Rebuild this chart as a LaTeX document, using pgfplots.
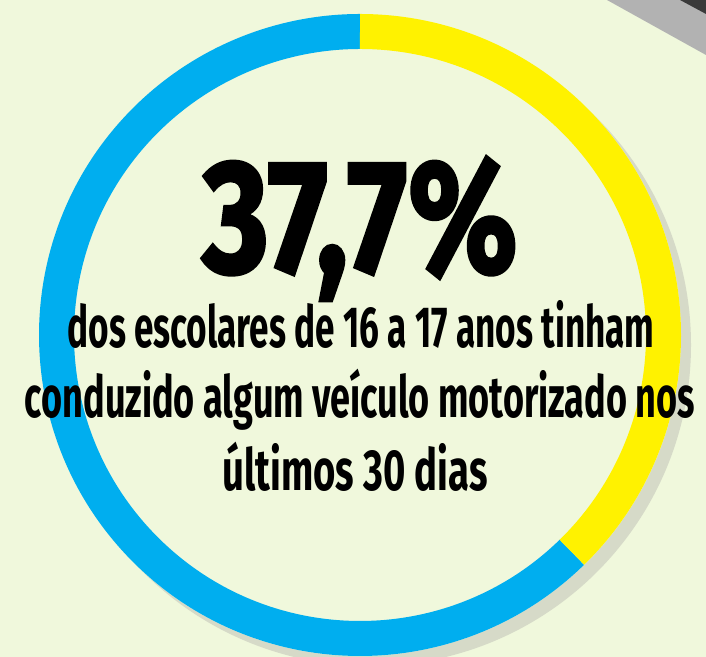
\documentclass[border=0pt]{standalone}
\usepackage{pgfplots}
\pgfplotsset{compat=1.18}
\usepackage{pgfplotstable}
\usepackage{graphicx}
\usepackage{fontspec}
\setmainfont{Fira Sans}
\newfontfamily\numfont{Fira Sans}[FakeBold=2.5]

\definecolor{fundo}{HTML}{F0F8DC}
\definecolor{azul}{HTML}{00AEEF}
\definecolor{amarelo}{HTML}{FFF200}
\definecolor{sombra}{HTML}{D6DAC8}
\definecolor{cinzaclaro}{HTML}{B2B2B2}
\definecolor{cinzaescuro}{HTML}{3A3A3A}

% parcela dos escolares de 16 a 17 anos que conduziram veiculo (%)
\pgfplotstableread{
grupo valor
sim   37.7
nao   62.3
}\dados

\begin{document}
\begin{tikzpicture}
\pgfplotstablegetelem{0}{valor}\of\dados
\let\vsim\pgfplotsretval
\pgfmathsetmacro\afim{90-3.6*\vsim}
\begin{axis}[
    width=353pt, height=328.5pt,
    scale only axis,
    xmin=0, xmax=706, ymin=0, ymax=657,
    hide axis,
]
% fundo
\fill[fundo] (axis cs:0,0) rectangle (axis cs:706,657);
% faixa no canto
\fill[cinzaclaro] (axis cs:607,657) -- (axis cs:706,657) -- (axis cs:706,602) -- cycle;
\fill[cinzaescuro] (axis cs:680,657) -- (axis cs:706,657) -- (axis cs:706,643) -- cycle;

% sombra e disco
\fill[sombra] (axis cs:370,312) circle[radius=160.5pt];
\fill[fundo] (axis cs:360,322) circle[radius=160.5pt];

% anel
\draw[azul, line width=17.5pt] (axis cs:360,322) ++(\afim:151.75pt)
    arc[start angle=\afim, end angle=-270, radius=151.75pt];
\draw[amarelo, line width=17.5pt] (axis cs:360,322) ++(90:151.75pt)
    arc[start angle=90, end angle=\afim, radius=151.75pt];

% textos
\node[anchor=base, inner sep=0pt] at (axis cs:360,385)
    {\resizebox{157.5pt}{\height}{\fontsize{80pt}{80pt}\numfont\bfseries 37,7\%}};
\node[anchor=base, inner sep=0pt] at (axis cs:361,309)
    {\resizebox{293.5pt}{\height}{\fontsize{29pt}{29pt}\selectfont\bfseries dos escolares de 16 a 17 anos tinham}};
\node[anchor=base, inner sep=0pt] at (axis cs:360,239)
    {\resizebox{335pt}{\height}{\fontsize{29pt}{29pt}\selectfont\bfseries conduzido algum veículo motorizado nos}};
\node[anchor=base, inner sep=0pt] at (axis cs:355,166)
    {\resizebox{132.5pt}{\height}{\fontsize{29pt}{29pt}\selectfont\bfseries últimos 30 dias}};
\end{axis}
\pgfresetboundingbox
\useasboundingbox (current axis.south west) rectangle (current axis.north east);
\end{tikzpicture}
\end{document}
